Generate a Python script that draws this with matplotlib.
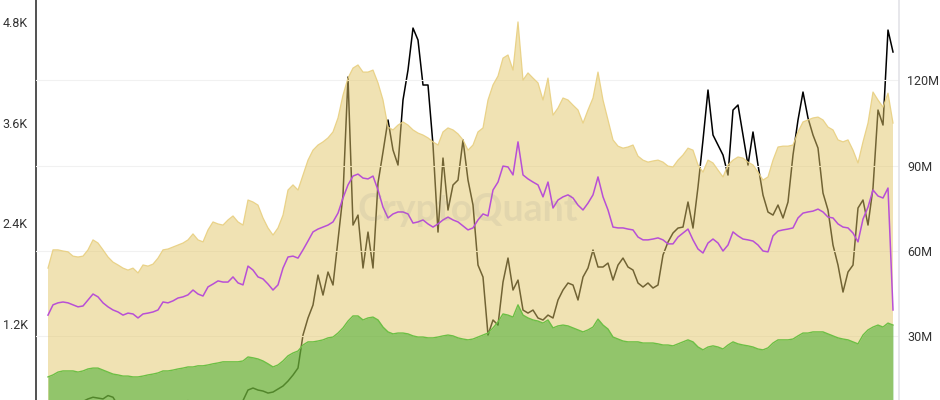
import numpy as np
import pandas as pd
import matplotlib
matplotlib.use("Agg")
import matplotlib.pyplot as plt

# ---- data ----
start_date = "2019-01-01"
end_date = "2025-08-25"

# ETH price (left axis)
price = [
    130, 120, 140, 140, 160, 170, 250, 270, 300, 320,
    310, 300, 340, 320, 220, 210, 220, 190, 180, 175,
    185, 180, 150, 135, 145, 165, 230, 260, 280, 250,
    130, 160, 190, 210, 240, 245, 235, 245, 230, 280,
    406, 430, 406, 394, 370, 382, 418, 454, 513, 585,
    669, 1063, 1266, 1421, 1779, 1540, 1815, 1660, 2197, 2734,
    4143, 2376, 2495, 1863, 2292, 1863, 2878, 3248, 3630, 3272,
    3092, 3869, 4227, 4728, 4585, 4048, 4048, 3331, 2292, 3176,
    2555, 2854, 2913, 3391, 2913, 2615, 1898, 1755, 1063, 1242,
    1182, 1695, 1982, 1600, 1719, 1361, 1325, 1361, 1266, 1242,
    1301, 1266, 1481, 1600, 1684, 1660, 1481, 1755, 1863, 2078,
    1875, 1875, 1922, 1719, 1898, 1982, 1875, 1839, 1684, 1636,
    1684, 1624, 1660, 2018, 2173, 2281, 2340, 2352, 2651, 2340,
    2830, 3391, 3988, 3451, 3331, 3212, 2973, 3749, 3809, 3451,
    3092, 3487, 3092, 2734, 2531, 2495, 2615, 2460, 2651, 3212,
    3630, 3964, 3654, 3451, 3295, 2758, 2555, 2137, 1898, 1576,
    1815, 1898, 2579, 2675, 2376, 2818, 3749, 3570, 4704, 4442,
]

# upper (tan) area, right axis, millions
tan_area = [
    54.0, 60.4, 60.4, 60.0, 59.7, 58.2, 57.9, 58.2, 60.4, 63.9,
    62.8, 60.4, 57.9, 56.1, 55.1, 54.0, 53.3, 54.0, 52.3, 55.1,
    54.7, 55.4, 57.5, 60.4, 60.7, 61.4, 62.1, 62.8, 63.9, 66.0,
    63.9, 63.2, 67.4, 70.2, 69.5, 69.1, 70.9, 72.3, 70.2, 69.1,
    77.9, 77.2, 76.1, 71.6, 68.1, 65.6, 68.1, 72.6, 81.4, 83.2,
    81.4, 86.7, 91.9, 95.4, 97.2, 98.3, 99.7, 101.8, 106.7, 114.7,
    120.7, 124.2, 125.3, 122.8, 122.8, 123.5, 119.0, 113.0, 103.5, 102.5,
    104.2, 105.3, 104.2, 102.5, 101.4, 100.7, 99.7, 98.3, 97.2, 101.8,
    103.2, 102.5, 101.1, 99.0, 95.4, 97.2, 101.8, 103.2, 113.0, 118.3,
    121.4, 127.7, 128.8, 123.5, 140.4, 120.0, 122.5, 120.7, 119.0, 113.0,
    120.7, 107.7, 110.2, 113.7, 113.0, 111.2, 109.5, 104.9, 109.5, 113.7,
    122.8, 113.0, 106.0, 99.0, 96.8, 96.1, 96.5, 97.2, 93.3, 91.9,
    91.2, 91.6, 91.9, 91.2, 89.8, 89.5, 91.9, 93.7, 96.1, 95.4,
    90.2, 87.7, 91.9, 90.9, 88.4, 86.0, 90.2, 91.9, 93.0, 92.6,
    91.2, 90.2, 87.7, 84.9, 86.0, 91.9, 96.5, 96.8, 96.8, 97.2,
    101.8, 105.3, 106.0, 106.7, 107.0, 106.0, 103.5, 102.5, 99.0, 98.3,
    99.0, 95.4, 90.9, 98.3, 104.9, 115.8, 113.0, 110.5, 115.4, 104.9,
]

# lower (green) area, right axis, millions
green_area = [
    15.8, 16.5, 17.5, 17.9, 17.9, 17.9, 17.5, 17.9, 18.6, 18.9,
    18.9, 18.2, 17.5, 16.8, 16.5, 16.1, 16.1, 15.8, 15.8, 16.1,
    16.5, 16.8, 17.2, 17.9, 17.9, 18.2, 18.6, 18.9, 19.3, 19.3,
    19.7, 19.7, 20.0, 20.4, 20.7, 21.1, 21.1, 21.1, 21.1, 21.4,
    22.8, 22.5, 22.1, 21.4, 20.4, 19.3, 20.0, 21.4, 23.2, 24.2,
    24.9, 27.0, 28.1, 28.1, 28.4, 28.8, 29.5, 29.8, 31.2, 33.0,
    35.4, 37.2, 37.2, 35.8, 36.5, 36.8, 35.8, 33.3, 31.6, 30.9,
    31.2, 31.2, 30.9, 30.2, 29.8, 29.8, 29.5, 29.5, 29.8, 30.2,
    30.5, 30.2, 29.5, 29.1, 28.8, 29.1, 29.8, 30.5, 31.2, 33.0,
    35.1, 37.9, 37.5, 36.8, 41.1, 37.5, 36.5, 35.8, 35.4, 34.7,
    35.8, 33.0, 33.7, 34.0, 33.7, 33.0, 32.3, 31.6, 32.3, 33.3,
    36.1, 34.0, 32.6, 29.8, 29.1, 28.4, 28.1, 28.1, 28.1, 27.7,
    27.7, 27.7, 27.4, 27.0, 27.0, 26.7, 27.4, 28.1, 28.8, 28.1,
    26.3, 25.3, 26.3, 26.7, 26.3, 25.6, 27.0, 28.1, 27.4, 27.0,
    26.7, 26.3, 25.6, 25.3, 26.0, 27.7, 28.8, 28.8, 28.8, 29.1,
    30.2, 31.2, 31.2, 31.6, 31.6, 31.6, 30.9, 30.2, 29.5, 29.1,
    28.8, 28.1, 27.4, 30.5, 32.3, 33.3, 34.0, 33.3, 34.7, 34.0,
]

# purple line, right axis, millions
purple_line = [
    37.5, 41.1, 41.8, 42.1, 41.8, 41.1, 40.4, 40.7, 42.8, 44.9,
    43.9, 41.8, 40.4, 39.3, 38.6, 37.5, 38.2, 37.9, 36.5, 37.9,
    38.2, 38.6, 39.3, 42.1, 41.8, 42.5, 43.5, 43.9, 44.6, 46.3,
    44.9, 44.2, 47.4, 48.4, 49.5, 49.1, 49.1, 50.9, 48.8, 48.1,
    54.7, 53.3, 50.9, 50.2, 48.4, 46.3, 48.1, 54.0, 57.9, 58.2,
    57.5, 60.4, 63.5, 66.7, 67.7, 68.4, 69.1, 70.2, 73.3, 78.6,
    83.2, 86.3, 87.0, 85.6, 85.3, 86.3, 81.4, 75.4, 71.6, 73.0,
    73.7, 73.7, 73.0, 69.8, 70.2, 70.9, 69.5, 68.4, 69.5, 70.9,
    71.9, 70.9, 70.2, 68.8, 67.4, 68.1, 70.9, 73.0, 72.3, 81.4,
    84.2, 89.8, 89.5, 86.7, 98.3, 86.7, 85.3, 84.2, 83.2, 79.0,
    84.2, 75.1, 77.9, 79.0, 79.7, 78.6, 76.1, 74.4, 76.8, 79.7,
    86.0, 79.0, 74.4, 68.4, 68.1, 68.1, 67.7, 67.4, 64.9, 63.9,
    63.9, 64.2, 64.6, 63.9, 62.5, 62.5, 64.9, 66.3, 67.7, 63.9,
    60.7, 59.3, 62.8, 64.2, 62.8, 60.0, 62.1, 66.7, 65.3, 64.2,
    63.9, 63.5, 62.1, 60.0, 59.7, 65.3, 67.0, 67.4, 67.7, 68.1,
    71.6, 73.3, 73.7, 74.0, 74.7, 73.7, 71.9, 71.6, 69.5, 68.4,
    68.1, 66.3, 63.2, 71.2, 75.4, 81.4, 79.3, 78.6, 82.1, 39.3,
]

left_ticks = [1200, 2400, 3600, 4800]
left_labels = ["1.2K", "2.4K", "3.6K", "4.8K"]
right_ticks = [30, 60, 90, 120]
right_labels = ["30M", "60M", "90M", "120M"]

# ---- figure ----
dates = pd.date_range(start_date, end_date, periods=len(price))
step = dates[1] - dates[0]

fig = plt.figure(figsize=(9.4, 4.0), dpi=100)
ax = fig.add_axes([36 / 940, 0.0, (899 - 36) / 940, 1.0])
ax.set_facecolor("white")

ax.plot(dates, price, color="#000000", lw=1.1, zorder=2)
ax.set_ylim(287, 5063)
ax.set_xlim(dates[0] - 2.4 * step, dates[-1] + 1.2 * step)

ax2 = ax.twinx()
ax2.set_ylim(7.7, 148.1)
ax2.set_yticks(right_ticks)
ax2.set_yticklabels(right_labels)
ax2.grid(axis="y", color="#f1f1f1", lw=0.8, zorder=0)
ax2.set_axisbelow(True)

ax2.fill_between(dates, 0, tan_area, color="#E3C769", alpha=0.5, lw=0, zorder=2)
ax2.plot(dates, tan_area, color="#E8CF80", lw=0.9, alpha=0.9, zorder=2)
ax2.fill_between(dates, 0, green_area, color="#35A924", alpha=0.5, lw=0, zorder=3)
ax2.plot(dates, green_area, color="#6CBF45", lw=1.0, zorder=3)
ax2.plot(dates, purple_line, color="#B84FD6", lw=1.1, zorder=4)

ax.set_yticks(left_ticks)
ax.set_yticklabels(left_labels)
for a in (ax, ax2):
    a.tick_params(axis="y", length=0, labelsize=9, labelcolor="#333333", pad=6)
    for lab in a.get_yticklabels():
        lab.set_family("Roboto")
ax.set_xticks([])
ax2.set_xticks([])

for s in ["top", "bottom", "right"]:
    ax.spines[s].set_visible(False)
ax.spines["left"].set_color("#333333")
ax.spines["left"].set_linewidth(1.2)
for s in ["top", "bottom", "left"]:
    ax2.spines[s].set_visible(False)
ax2.spines["right"].set_color("#e3e3e8")
ax2.spines["right"].set_linewidth(1.2)

ax2.text(0.5, 0.475, "CryptoQuant", transform=ax2.transAxes, ha="center", va="center",
         fontsize=27, color="#8a8a8a", alpha=0.13, zorder=5, family="Lato", fontweight="bold")

fig.savefig("out.png", dpi=100)
